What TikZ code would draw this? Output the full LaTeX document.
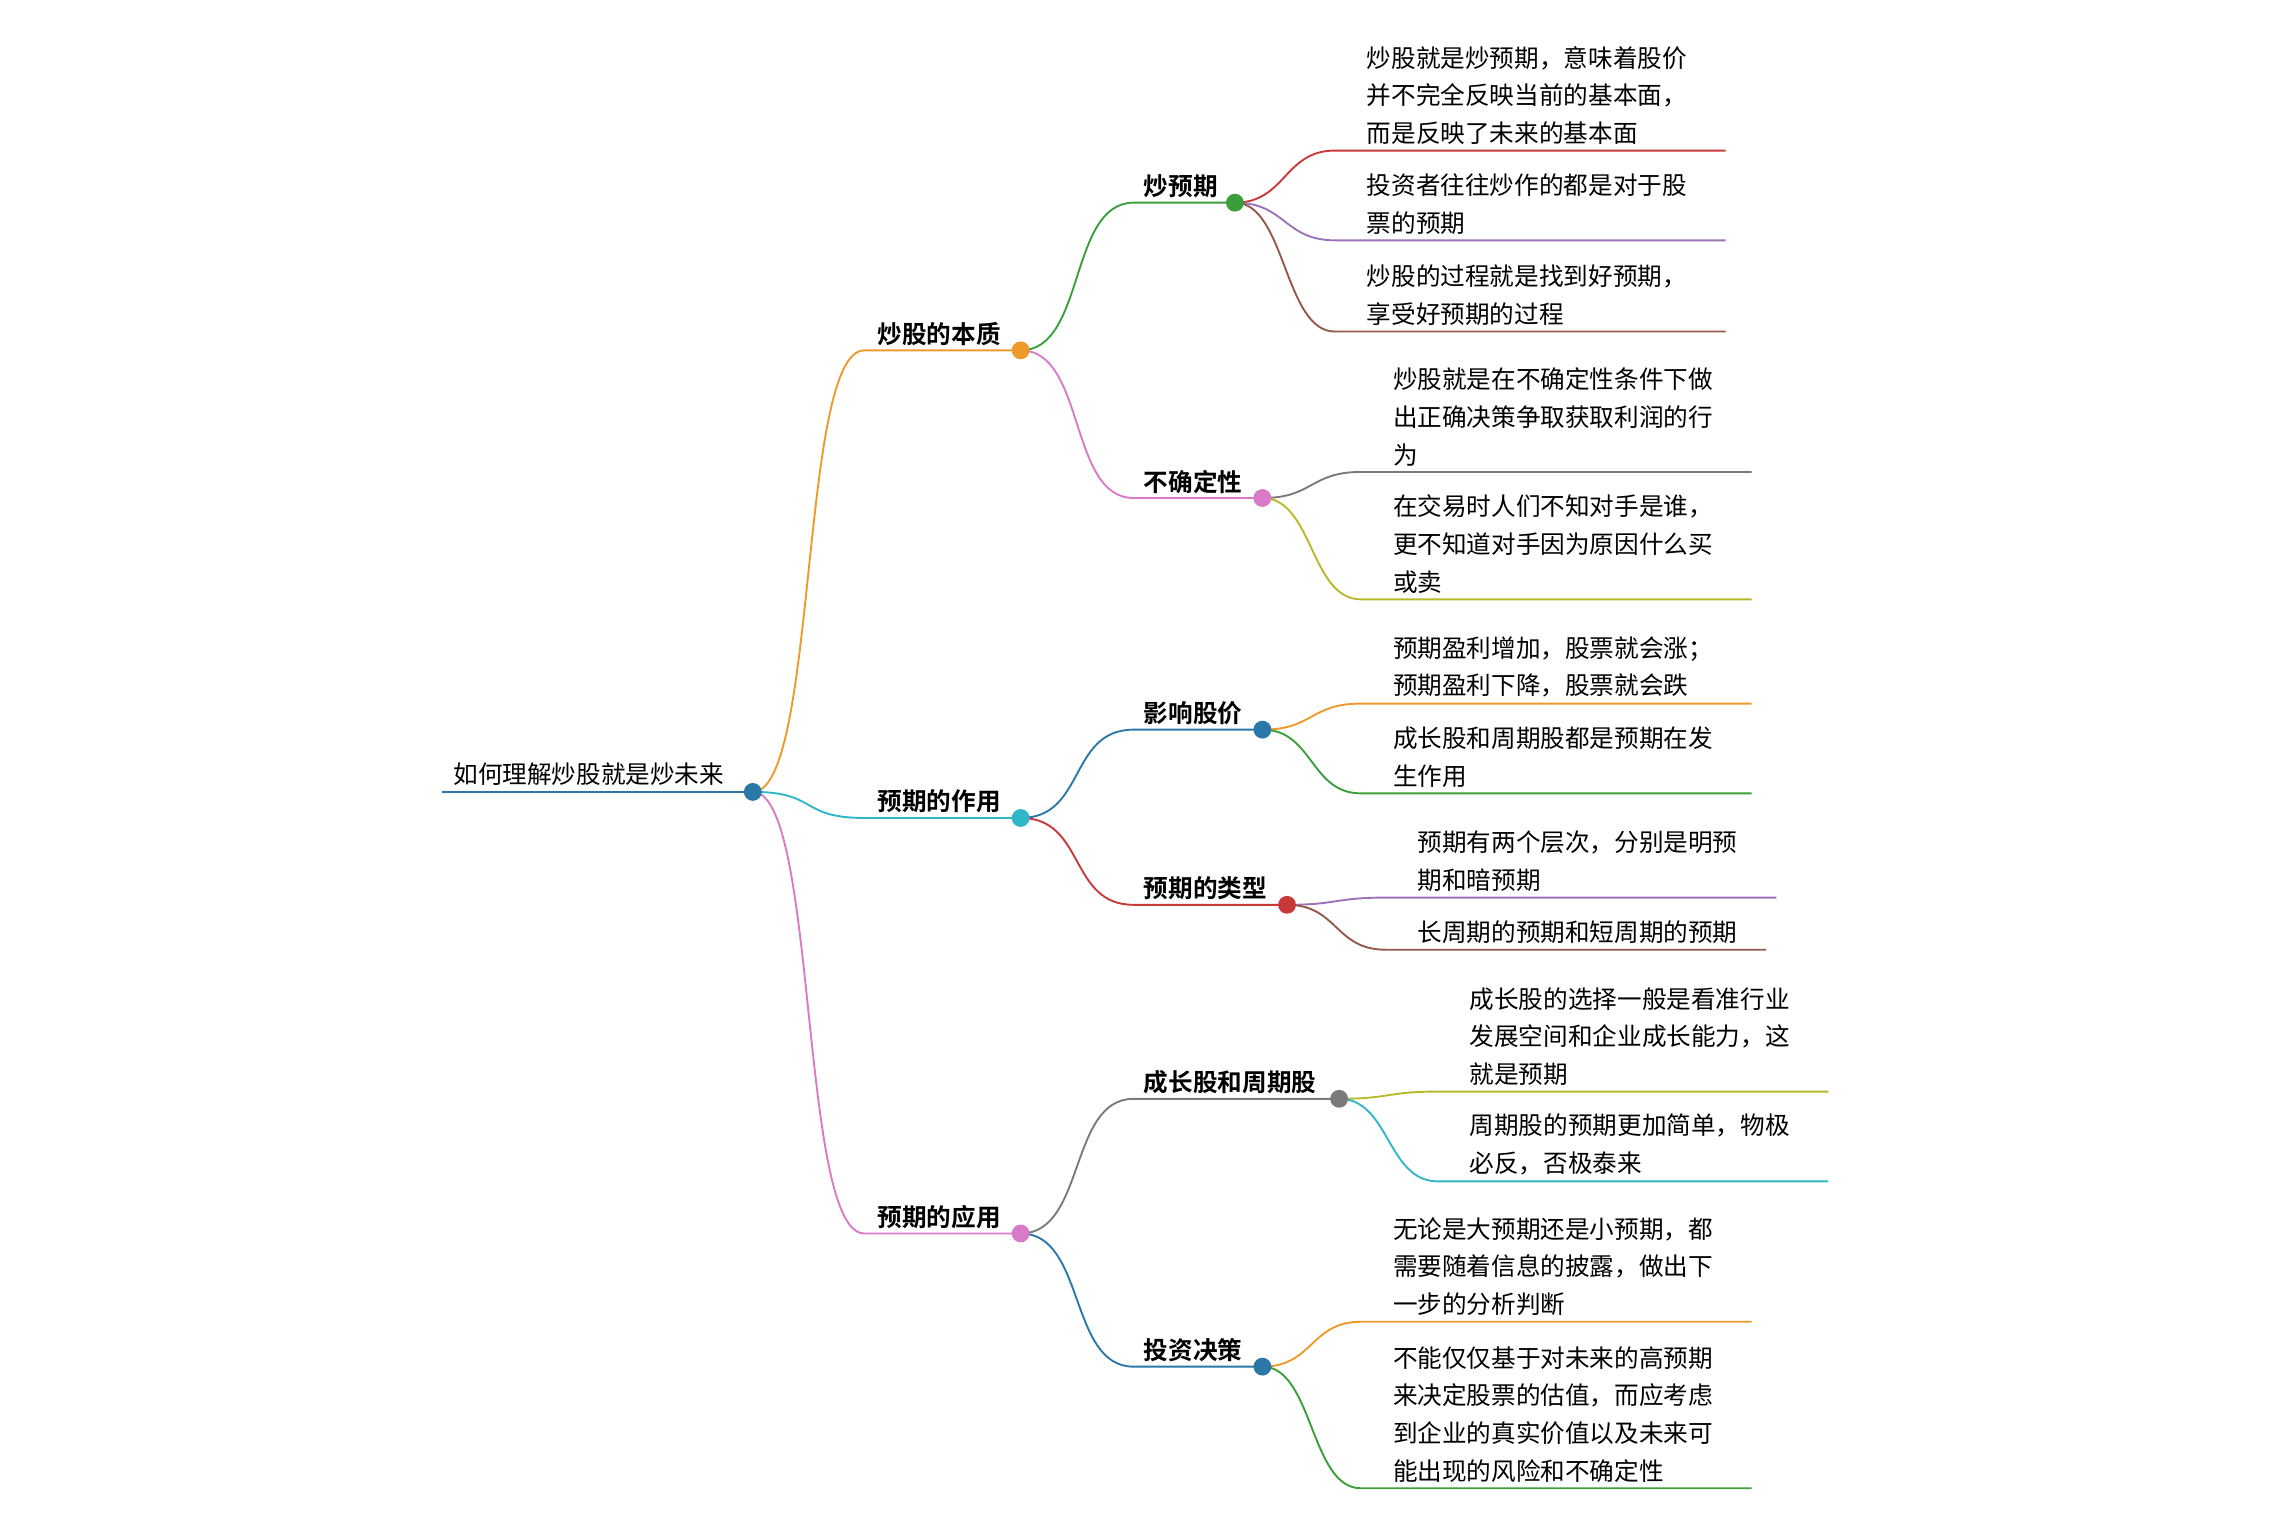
\documentclass[tikz,border=0pt]{standalone}
\usepackage{fontspec}
\setmainfont{Noto Sans CJK SC}[BoldFont=Noto Sans CJK SC Bold]
\definecolor{corange}{HTML}{EE9A2A}
\definecolor{ccyan}{HTML}{2FB7C9}
\definecolor{cpink}{HTML}{D97AC8}
\definecolor{cgreen}{HTML}{3A9E3A}
\definecolor{cpurple}{HTML}{9A72B8}
\definecolor{cred}{HTML}{C93838}
\definecolor{cbrown}{HTML}{94594A}
\definecolor{cgray}{HTML}{7A7A7A}
\definecolor{colive}{HTML}{B8B828}
\definecolor{cblue}{HTML}{2A78A8}
\tikzset{
  link/.style={line width=1.3},
  dot/.style={circle,draw,fill=white,inner sep=0,minimum size=11,line width=1.3},
  lbl/.style={font=\bfseries\fontsize{17}{24}\selectfont,inner sep=3,anchor=south west},
  leaftxt/.style={font=\fontsize{17}{26}\selectfont,align=left,inner sep=4,anchor=south west},
}
% leaf: name, parent, line start x, y, line end x, colour, text
\newcommand\leaf[7]{%
  \coordinate (#1s) at (#3,#4);
  \coordinate (#1e) at (#5,#4);
  \draw[#6,link] (#2) .. controls +(35,0) and +(-35,0) .. (#1s) -- (#1e);
  \node[leaftxt] (#1) at ([xshift=18]#1s) {#7};
}
\begin{document}
\begin{tikzpicture}[x=1pt,y=-1pt]
  \useasboundingbox (0,0) rectangle (1568,1062);
  % root
  \coordinate (p0) at (520,547);
  \coordinate (r0) at (305,547);
  \draw[cblue,link] (r0) -- (p0);
  \node[leaftxt] (root) at (309,547) {如何理解炒股就是炒未来};
  % level 1
  \coordinate (pA) at (705,242);
  \coordinate (pB) at (705,565);
  \coordinate (pC) at (705,852);
  \draw[corange,link] (p0) .. controls +(45,0) and +(-45,0) .. (597,242) -- (pA);
  \draw[ccyan,link] (p0) .. controls +(45,0) and +(-45,0) .. (597,565) -- (pB);
  \draw[cpink,link] (p0) .. controls +(45,0) and +(-45,0) .. (597,852) -- (pC);
  \node[lbl] (lA) at (603,242) {炒股的本质};
  \node[lbl] (lB) at (603,565) {预期的作用};
  \node[lbl] (lC) at (603,852) {预期的应用};
  % level 2
  \coordinate (pA1) at (853,140);
  \coordinate (pA2) at (872,344);
  \coordinate (pB1) at (872,504);
  \coordinate (pB2) at (889,625);
  \coordinate (pC1) at (925,759);
  \coordinate (pC2) at (872,944);
  \draw[cgreen,link] (pA) .. controls +(45,0) and +(-45,0) .. (783,140) -- (pA1);
  \draw[cpink,link] (pA) .. controls +(45,0) and +(-45,0) .. (783,344) -- (pA2);
  \draw[cblue,link] (pB) .. controls +(45,0) and +(-45,0) .. (783,504) -- (pB1);
  \draw[cred,link] (pB) .. controls +(45,0) and +(-45,0) .. (783,625) -- (pB2);
  \draw[cgray,link] (pC) .. controls +(45,0) and +(-45,0) .. (783,759) -- (pC1);
  \draw[cblue,link] (pC) .. controls +(45,0) and +(-45,0) .. (783,944) -- (pC2);
  \node[lbl] (lA1) at (787,140) {炒预期};
  \node[lbl] (lA2) at (787,344) {不确定性};
  \node[lbl] (lB1) at (787,504) {影响股价};
  \node[lbl] (lB2) at (787,625) {预期的类型};
  \node[lbl] (lC1) at (787,759) {成长股和周期股};
  \node[lbl] (lC2) at (787,944) {投资决策};
  % leaves
  \leaf{a1}{pA1}{922}{104}{1192}{cred}{炒股就是炒预期，意味着股价\\并不完全反映当前的基本面，\\而是反映了未来的基本面}
  \leaf{a2}{pA1}{922}{166}{1192}{cpurple}{投资者往往炒作的都是对于股\\票的预期}
  \leaf{a3}{pA1}{922}{229}{1192}{cbrown}{炒股的过程就是找到好预期，\\享受好预期的过程}
  \leaf{a4}{pA2}{940}{326}{1210}{cgray}{炒股就是在不确定性条件下做\\出正确决策争取获取利润的行\\为}
  \leaf{a5}{pA2}{940}{414}{1210}{colive}{在交易时人们不知对手是谁，\\更不知道对手因为原因什么买\\或卖}
  \leaf{b1}{pB1}{940}{486}{1210}{corange}{预期盈利增加，股票就会涨；\\预期盈利下降，股票就会跌}
  \leaf{b2}{pB1}{940}{548}{1210}{cgreen}{成长股和周期股都是预期在发\\生作用}
  \leaf{b3}{pB2}{957}{620}{1227}{cpurple}{预期有两个层次，分别是明预\\期和暗预期}
  \leaf{b4}{pB2}{957}{656}{1220}{cbrown}{长周期的预期和短周期的预期}
  \leaf{c1}{pC1}{993}{754}{1263}{colive}{成长股的选择一般是看准行业\\发展空间和企业成长能力，这\\就是预期}
  \leaf{c2}{pC1}{993}{816}{1263}{ccyan}{周期股的预期更加简单，物极\\必反，否极泰来}
  \leaf{c3}{pC2}{940}{913}{1210}{corange}{无论是大预期还是小预期，都\\需要随着信息的披露，做出下\\一步的分析判断}
  \leaf{c4}{pC2}{940}{1028}{1210}{cgreen}{不能仅仅基于对未来的高预期\\来决定股票的估值，而应考虑\\到企业的真实价值以及未来可\\能出现的风险和不确定性}
  % dots
  \node[dot,cblue] (d0) at (p0) {};
  \node[dot,corange] (dA) at (pA) {};
  \node[dot,ccyan] (dB) at (pB) {};
  \node[dot,cpink] (dC) at (pC) {};
  \node[dot,cgreen] (dA1) at (pA1) {};
  \node[dot,cpink] (dA2) at (pA2) {};
  \node[dot,cblue] (dB1) at (pB1) {};
  \node[dot,cred] (dB2) at (pB2) {};
  \node[dot,cgray] (dC1) at (pC1) {};
  \node[dot,cblue] (dC2) at (pC2) {};
\end{tikzpicture}
\end{document}
